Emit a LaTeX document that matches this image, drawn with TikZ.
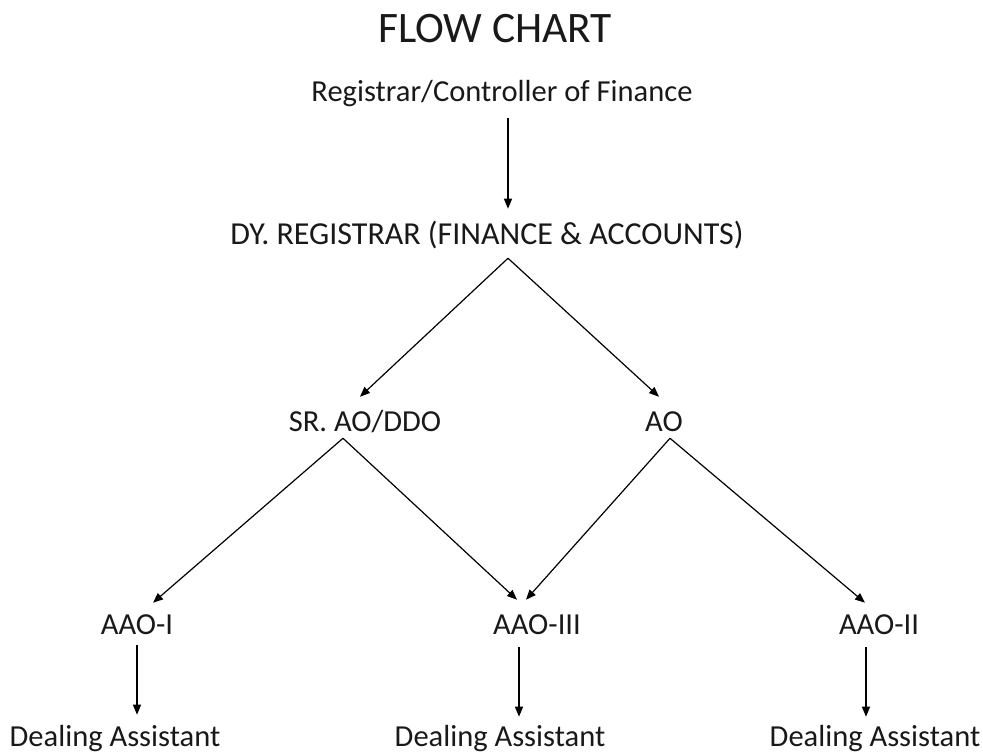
\documentclass[tikz,border=0pt]{standalone}
\usepackage{fontspec}
\setmainfont{Carlito}
\usetikzlibrary{calc,arrows.meta}

\begin{document}
\begin{tikzpicture}[
  x=0.75pt, y=-0.75pt,
  label/.style={inner sep=0pt, anchor=base, text height=15pt, text depth=0pt,
    text=black!90, font=\fontsize{22.9}{27}\selectfont},
  wide label/.style={label, font=\fontsize{24}{28}\selectfont},
  heading/.style={inner sep=0pt, anchor=base, text=black!90,
    font=\fontsize{32.6}{38}\selectfont},
  link/.style={draw=black, line width=0.9pt,
    -{Triangle[length=7.5pt,width=6pt]}}
]
\useasboundingbox (0,0) rectangle (983,752);

% levels of the chart
\node[heading] (title)   at (495,43)  {FLOW CHART};
\node[label] (reg)       at (502,102) {Registrar/Controller of Finance};
\node[wide label] (dy)   at (487,245) {DY. REGISTRAR (FINANCE \& ACCOUNTS)};
\node[label] (sr)        at (365,432) {SR. AO/DDO};
\node[label] (ao)        at (664,432) {AO};
\node[label] (aaoI)      at (137,634) {AAO-I};
\node[label] (aaoIII)    at (537,634) {AAO-III};
\node[label] (aaoII)     at (879,634) {AAO-II};
\node[label] (da1)       at (115,746) {Dealing Assistant};
\node[label] (da2)       at (500,746) {Dealing Assistant};
\node[label] (da3)       at (875,746) {Dealing Assistant};

% reporting lines
\draw[link] ($(reg.south)+(6,16)$) -- ($(dy.north)+(21,-16)$);
\draw[link] ($(dy.south)+(21,13)$) -- ($(sr.north)+(-5,-15)$);
\draw[link] ($(dy.south)+(21,13)$) -- ($(ao.north)+(-5,-15)$);
\draw[link] ($(sr.south)+(-22,6)$) -- ($(aaoI.north)+(16,-11)$);
\draw[link] ($(sr.south)+(-22,6)$) -- ($(aaoIII.north)+(-20,-14)$);
\draw[link] ($(ao.south)+(6,6)$) -- ($(aaoIII.north)+(-11,-14)$);
\draw[link] ($(ao.south)+(6,6)$) -- ($(aaoII.north)+(-14,-11)$);
\draw[link] ($(aaoI.south)+(0,11)$) -- ($(da1.north)+(22,-11)$);
\draw[link] ($(aaoIII.south)+(-18,13)$) -- ($(da2.north)+(19,-9)$);
\draw[link] ($(aaoII.south)+(-13,13)$) -- ($(da3.north)+(-9,-9)$);
\end{tikzpicture}
\end{document}
